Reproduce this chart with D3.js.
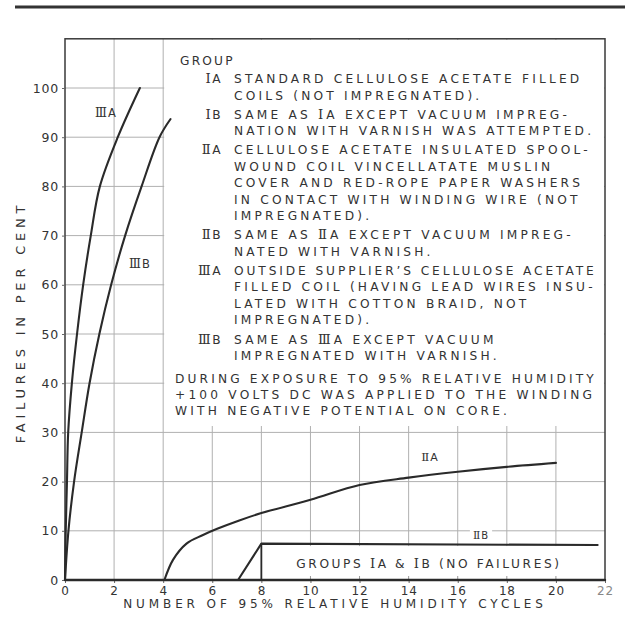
<!DOCTYPE html>
<html><head><meta charset="utf-8">
<script src="https://cdn.jsdelivr.net/npm/d3@7"></script>
<style>html,body{margin:0;padding:0;background:#fff;} svg{display:block;}</style>
</head><body>
<svg id="chart" width="625" height="622"></svg>
<script>
// ---------- data ----------
const xTicks = [0, 2, 4, 6, 8, 10, 12, 14, 16, 18, 20, 22];
const yTicks = [0, 10, 20, 30, 40, 50, 60, 70, 80, 90, 100];

const seriesIIIA_x = [0, 0.03, 0.08, 0.13, 0.28, 0.49, 0.74, 1.05, 1.42, 2.15, 3.05];
const seriesIIIA_y = [0, 10, 20, 30, 40, 50, 60, 70, 80, 90, 100];
const seriesIIIB_x = [0, 0.14, 0.37, 0.68, 1.0, 1.4, 1.88, 2.45, 3.12, 3.85, 4.3];
const seriesIIIB_y = [0, 10, 20, 30, 40, 50, 60, 70, 80, 90, 93.7];
const seriesIIA_x = [4.05, 4.4, 4.95, 5.6, 6.2, 7.1, 8, 10, 12, 14, 16, 18, 20];
const seriesIIA_y = [0, 4.1, 7.4, 9.1, 10.4, 12.1, 13.6, 16.3, 19.3, 20.8, 22.0, 23.0, 23.8];
const seriesIIB_x = [7.05, 8.0, 21.7];
const seriesIIB_y = [0, 7.4, 7.1];
const seriesIAIB_x = [0, 22];
const seriesIAIB_y = [0, 0];

const legendTitle = "GROUP";
const legendCodes = ["\u2160A", "\u2160B", "\u2161A", "\u2161B", "\u2162A", "\u2162B"];
const legendTexts = [
  ["STANDARD CELLULOSE ACETATE FILLED", "COILS (NOT IMPREGNATED)."],
  ["SAME AS \u2160A EXCEPT VACUUM IMPREG-", "NATION WITH VARNISH WAS ATTEMPTED."],
  ["CELLULOSE ACETATE INSULATED SPOOL-", "WOUND COIL VINCELLATATE MUSLIN", "COVER AND RED-ROPE PAPER WASHERS", "IN CONTACT WITH WINDING WIRE (NOT", "IMPREGNATED)."],
  ["SAME AS \u2161A EXCEPT VACUUM IMPREG-", "NATED WITH VARNISH."],
  ["OUTSIDE SUPPLIER\u2019S CELLULOSE ACETATE", "FILLED COIL (HAVING LEAD WIRES INSU-", "LATED WITH COTTON BRAID, NOT", "IMPREGNATED)."],
  ["SAME AS \u2162A EXCEPT VACUUM", "IMPREGNATED WITH VARNISH."]
];
const noteLines = ["DURING EXPOSURE TO 95% RELATIVE HUMIDITY", "+100 VOLTS DC WAS APPLIED TO THE WINDING", "WITH NEGATIVE POTENTIAL ON CORE."];
const xTitle = "NUMBER OF 95% RELATIVE HUMIDITY CYCLES";
const yTitle = "FAILURES IN PER CENT";
const boxLabel = "GROUPS \u2160A & \u2160B (NO FAILURES)";
const curveLabels = ["\u2162A", "\u2162B", "\u2161A", "\u2161B"];

// ---------- drawing ----------
const svg = d3.select("#chart");
const INK = "#2a2a2a";
const FONT = "'DejaVu Sans', sans-serif";
const SERIF = "'DejaVu Serif', serif";
const x = d3.scaleLinear().domain([0, 22]).range([65, 605]);
const y = d3.scaleLinear().domain([0, 110]).range([580, 38.8]);
const MAX_RIGHT = 597;

// write text, roman numerals in serif
function rich(sel, str) {
  str.split(/([\u2160-\u2162])/).filter(s => s.length).forEach(part => {
    const t = sel.append("tspan").text(part);
    if (/[\u2160-\u2162]/.test(part)) t.attr("font-family", SERIF).attr("font-size", "1.08em");
  });
  return sel;
}
// keep a left-anchored line inside the legend panel
function clamp(sel) {
  const b = sel.node().getBBox();
  if (b.x + b.width > MAX_RIGHT) {
    const ls = parseFloat(sel.attr("letter-spacing") || 3.2);
    const n = sel.text().length;
    const over = b.x + b.width - MAX_RIGHT;
    sel.attr("letter-spacing", Math.max(0, 3.2 - over / (n - 1)));
  }
  return sel;
}

svg.append("rect").attr("width", 625).attr("height", 622).attr("fill", "#fff");

// top rule
svg.append("line").attr("x1", 15).attr("x2", 625).attr("y1", 7).attr("y2", 7)
  .attr("stroke", "#333").attr("stroke-width", 3);

// grid
const grid = svg.append("g").attr("stroke", "#b0b0b0").attr("stroke-width", 1);
grid.selectAll("line.v").data(xTicks.filter(d => d > 0 && d < 22)).join("line")
  .attr("x1", d => x(d)).attr("x2", d => x(d)).attr("y1", y(0)).attr("y2", y(110));
grid.selectAll("line.h").data(yTicks.filter(d => d > 0)).join("line")
  .attr("x1", x(0)).attr("x2", x(22)).attr("y1", d => y(d)).attr("y2", d => y(d));

// legend panel (white, covers grid)
svg.append("rect").attr("x", x(4) + 1).attr("y", y(110) + 1)
  .attr("width", x(22) - x(4) - 2).attr("height", y(31.5) - y(110)).attr("fill", "#fff");

// bottom "no failures" box
svg.append("rect").attr("x", x(8) + 1).attr("y", y(7.2) + 1.5)
  .attr("width", x(22) - x(8) - 2).attr("height", y(0) - y(7.2) - 2.5).attr("fill", "#fff");
svg.append("g").attr("stroke", "#999").selectAll("line").data(xTicks.filter(d => d > 8 && d < 22)).join("line")
  .attr("x1", d => x(d)).attr("x2", d => x(d)).attr("y1", y(0)).attr("y2", y(0) - 4);
svg.append("line").attr("x1", x(8)).attr("x2", x(8)).attr("y1", y(7.4)).attr("y2", y(0))
  .attr("stroke", INK).attr("stroke-width", 1.8);

// frame
svg.append("rect").attr("x", x(0)).attr("y", y(110)).attr("width", x(22) - x(0)).attr("height", y(0) - y(110))
  .attr("fill", "none").attr("stroke", "#3a3a3a").attr("stroke-width", 1.5);

// axes
const xAxis = svg.append("g").attr("transform", `translate(0,${y(0)})`)
  .call(d3.axisBottom(x).tickValues(xTicks).tickFormat(d3.format("d")).tickSize(3).tickPadding(3.5));
const yAxis = svg.append("g").attr("transform", `translate(${x(0)},0)`)
  .call(d3.axisLeft(y).tickValues(yTicks).tickFormat(d3.format("d")).tickSize(3).tickPadding(3));
[xAxis, yAxis].forEach(g => {
  g.select(".domain").remove();
  g.selectAll(".tick line").attr("stroke", "#666");
  g.selectAll(".tick text").attr("font-family", FONT).attr("font-size", 12.5)
    .attr("fill", "#333").attr("letter-spacing", 0.8);
});
xAxis.selectAll(".tick text").attr("font-size", 12);
xAxis.selectAll(".tick text").filter(d => d === 22).attr("fill", "#888");

// axis titles
svg.append("text").attr("x", 335).attr("y", 608).attr("text-anchor", "middle")
  .attr("font-family", FONT).attr("font-size", 12).attr("letter-spacing", 3.9).attr("fill", "#333")
  .text(xTitle);
svg.append("text").attr("transform", "translate(25,322) rotate(-90)").attr("text-anchor", "middle")
  .attr("font-family", FONT).attr("font-size", 13).attr("letter-spacing", 4.8).attr("fill", "#333")
  .text(yTitle);

// legend text
const lg = svg.append("g").attr("font-family", FONT).attr("font-size", 12.2).attr("fill", "#333");
lg.append("text").attr("x", 180).attr("y", 65).attr("letter-spacing", 2.2).text(legendTitle);
let by = 83;
const lineH = 16.5, gap = 2.6;
legendCodes.forEach((code, i) => {
  rich(lg.append("text").attr("x", 222).attr("y", by).attr("text-anchor", "end").attr("letter-spacing", 1.5), code);
  legendTexts[i].forEach((t, j) => {
    clamp(rich(lg.append("text").attr("x", 234).attr("y", by + j * lineH).attr("letter-spacing", 3.2), t));
  });
  by += legendTexts[i].length * lineH + gap;
});
noteLines.forEach((t, j) => {
  clamp(lg.append("text").attr("x", 175).attr("y", 383 + j * 16).attr("letter-spacing", 3.2).text(t));
});

// curves
const lineGen = (curve) => d3.line().x(d => x(d[0])).y(d => y(d[1])).curve(curve);
const zip = (a, b) => a.map((v, i) => [v, b[i]]);
const curves = svg.append("g").attr("fill", "none").attr("stroke", INK).attr("stroke-width", 2.1)
  .attr("stroke-linejoin", "round").attr("stroke-linecap", "round");
curves.append("path").attr("d", lineGen(d3.curveCatmullRom.alpha(0.5))(zip(seriesIIIA_x, seriesIIIA_y)));
curves.append("path").attr("d", lineGen(d3.curveCatmullRom.alpha(0.5))(zip(seriesIIIB_x, seriesIIIB_y)));
curves.append("path").attr("d", lineGen(d3.curveCatmullRom.alpha(0.5))(zip(seriesIIA_x, seriesIIA_y)));
curves.append("path").attr("d", lineGen(d3.curveLinear)(zip(seriesIIB_x, seriesIIB_y)));
curves.append("path").attr("stroke-width", 2.4).attr("d", lineGen(d3.curveLinear)(zip(seriesIAIB_x, seriesIAIB_y)));

// box label
rich(svg.append("text").attr("x", 429).attr("y", 568).attr("text-anchor", "middle")
  .attr("font-family", FONT).attr("font-size", 12.2).attr("letter-spacing", 2.6).attr("fill", "#333"), boxLabel);

// curve labels
const cl = svg.append("g").attr("font-family", FONT).attr("fill", "#333").attr("letter-spacing", 1);
rich(cl.append("text").attr("x", 106).attr("y", 117).attr("text-anchor", "middle").attr("font-size", 11.5), curveLabels[0]);
rich(cl.append("text").attr("x", 140).attr("y", 268).attr("text-anchor", "middle").attr("font-size", 11.5), curveLabels[1]);
rich(cl.append("text").attr("x", 430).attr("y", 461).attr("text-anchor", "middle").attr("font-size", 11), curveLabels[2]);
const lbl = rich(cl.append("text").attr("x", 481).attr("y", 539).attr("text-anchor", "middle").attr("font-size", 10), curveLabels[3]);
const bb = lbl.node().getBBox();
cl.insert("rect", "text:last-child").attr("x", bb.x - 3).attr("y", bb.y - 1).attr("width", bb.width + 6)
  .attr("height", bb.height + 1).attr("fill", "#fff");
</script>
</body></html>
